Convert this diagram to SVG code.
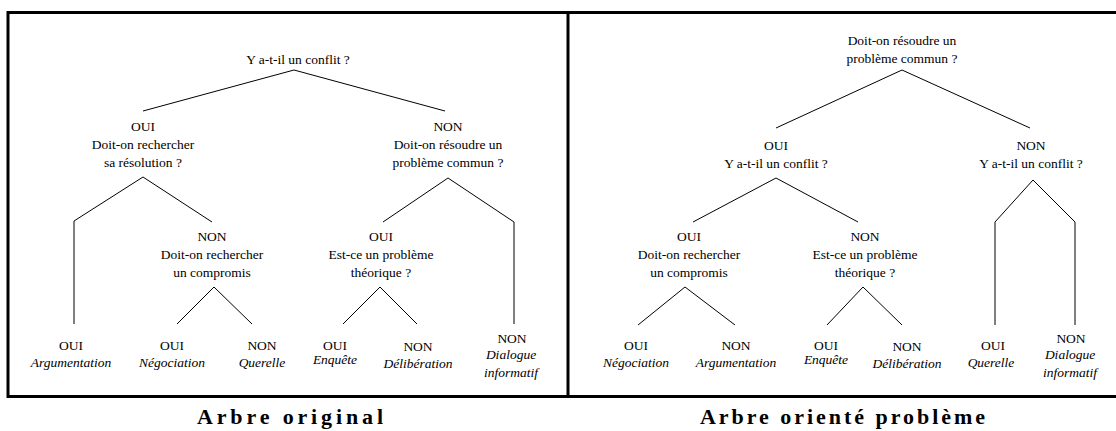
<svg xmlns="http://www.w3.org/2000/svg" width="1116" height="431" viewBox="0 0 1116 431">
<style>
text{font-family:'Liberation Serif','DejaVu Serif',serif;font-size:13.5px;fill:#000;text-anchor:middle}
.i{font-style:italic}
.cap{font-size:22px;font-weight:bold;text-anchor:start}
.frame{stroke:#000;stroke-width:3;fill:none}
.edge{stroke:#000;stroke-width:1;fill:none}
</style>
<rect width="1116" height="431" fill="#fff"/>
<g id="frame">
<path class="frame" d="M8,397 V12.5 H1116 M568,12.5 V397 M6.5,396.5 H1116"/>
</g>
<g id="connectors">
<polyline class="edge" points="143,111 294,70 445,111"/>
<polyline class="edge" points="74,324 74,221 143,177 212,222"/>
<polyline class="edge" points="177,324 214,287 252,324"/>
<polyline class="edge" points="383,222 448,178 514,222 514,324"/>
<polyline class="edge" points="343,324 380,287 417,324"/>
<polyline class="edge" points="776,128 902,70 1030,128"/>
<polyline class="edge" points="693,222 776,178 858,222"/>
<polyline class="edge" points="638,325 685,287 735,325"/>
<polyline class="edge" points="827,325 863,287 902,325"/>
<polyline class="edge" points="995,325 995,222 1033,180 1075,222 1075,325"/>
</g>
<g id="left-root"><text x="298" y="64">Y a-t-il un conflit ?</text></g>
<g id="left-oui"><text x="143" y="131">OUI</text><text x="143" y="149">Doit-on rechercher</text><text x="143" y="167">sa résolution ?</text></g>
<g id="left-non"><text x="448" y="131">NON</text><text x="448" y="149">Doit-on résoudre un</text><text x="448" y="167">problème commun ?</text></g>
<g id="left-oui-non"><text x="212" y="241">NON</text><text x="212" y="259">Doit-on rechercher</text><text x="212" y="277">un compromis</text></g>
<g id="left-non-oui"><text x="381" y="241">OUI</text><text x="381" y="259">Est-ce un problème</text><text x="381" y="277">théorique ?</text></g>
<g id="left-argumentation"><text x="71" y="350">OUI</text><text class="i" x="71" y="367">Argumentation</text></g>
<g id="left-negociation"><text x="172" y="350">OUI</text><text class="i" x="172" y="367">Négociation</text></g>
<g id="left-querelle"><text x="262" y="350">NON</text><text class="i" x="262" y="367">Querelle</text></g>
<g id="left-enquete"><text x="335" y="350">OUI</text><text class="i" x="335" y="364">Enquête</text></g>
<g id="left-deliberation"><text x="418" y="351">NON</text><text class="i" x="418" y="368">Délibération</text></g>
<g id="left-dialogue"><text x="512" y="343">NON</text><text class="i" x="511" y="359">Dialogue</text><text class="i" x="511" y="377">informatif</text></g>
<g id="right-root"><text x="902" y="45">Doit-on résoudre un</text><text x="902" y="63">problème commun ?</text></g>
<g id="right-oui"><text x="776" y="150">OUI</text><text x="776" y="168">Y a-t-il un conflit ?</text></g>
<g id="right-non"><text x="1031" y="150">NON</text><text x="1031" y="168">Y a-t-il un conflit ?</text></g>
<g id="right-oui-oui"><text x="689" y="241">OUI</text><text x="689" y="259">Doit-on rechercher</text><text x="689" y="277">un compromis</text></g>
<g id="right-oui-non"><text x="865" y="241">NON</text><text x="865" y="259">Est-ce un problème</text><text x="865" y="277">théorique ?</text></g>
<g id="right-negociation"><text x="636" y="350">OUI</text><text class="i" x="636" y="367">Négociation</text></g>
<g id="right-argumentation"><text x="736" y="350">NON</text><text class="i" x="736" y="367">Argumentation</text></g>
<g id="right-enquete"><text x="826" y="350">OUI</text><text class="i" x="826" y="364">Enquête</text></g>
<g id="right-deliberation"><text x="907" y="351">NON</text><text class="i" x="907" y="368">Délibération</text></g>
<g id="right-querelle"><text x="993" y="350">OUI</text><text class="i" x="991" y="367">Querelle</text></g>
<g id="right-dialogue"><text x="1071" y="343">NON</text><text class="i" x="1070" y="359">Dialogue</text><text class="i" x="1070" y="377">informatif</text></g>
<g id="captions">
<text class="cap" x="197" y="424" textLength="186" lengthAdjust="spacing">Arbre original</text>
<text class="cap" x="700" y="424" textLength="285" lengthAdjust="spacing">Arbre orienté problème</text>
</g>
</svg>
